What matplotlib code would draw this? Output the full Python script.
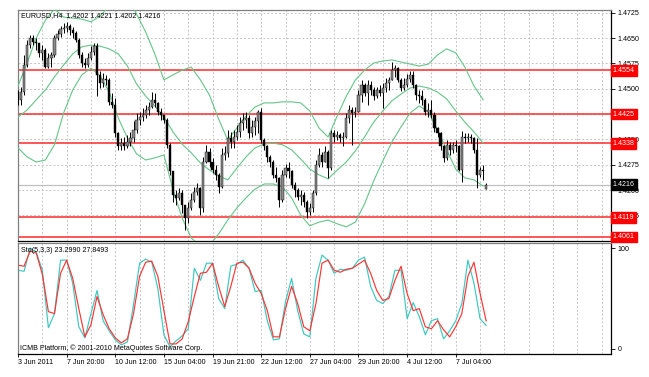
import numpy as np
import matplotlib.pyplot as plt
from matplotlib.transforms import blended_transform_factory

plt.rcParams['font.family'] = ['Liberation Sans', 'DejaVu Sans']
plt.rcParams['font.size'] = 5.1

# EURUSD H4 candles, one value per bar (open of a bar = close of the previous one)
first_open = 1.4491
last_open = 1.4202
closes = [1.4467, 1.4489, 1.4570, 1.4630, 1.4649, 1.4639, 1.4635, 1.4605, 1.4615, 1.4565,
          1.4590, 1.4600, 1.4649, 1.4661, 1.4677, 1.4681, 1.4687, 1.4674, 1.4664, 1.4644,
          1.4600, 1.4575, 1.4570, 1.4590, 1.4610, 1.4625, 1.4541, 1.4516, 1.4529, 1.4526,
          1.4462, 1.4452, 1.4368, 1.4329, 1.4338, 1.4329, 1.4343, 1.4353, 1.4378, 1.4408,
          1.4417, 1.4422, 1.4437, 1.4447, 1.4467, 1.4457, 1.4432, 1.4422, 1.4408, 1.4333,
          1.4255, 1.4185, 1.4176, 1.4190, 1.4156, 1.4116, 1.4146, 1.4171, 1.4195, 1.4205,
          1.4146, 1.4284, 1.4314, 1.4284, 1.4259, 1.4245, 1.4210, 1.4304, 1.4309, 1.4353,
          1.4343, 1.4358, 1.4373, 1.4398, 1.4408, 1.4412, 1.4368, 1.4388, 1.4403, 1.4432,
          1.4348, 1.4329, 1.4299, 1.4284, 1.4245, 1.4235, 1.4171, 1.4245, 1.4264, 1.4255,
          1.4215, 1.4200, 1.4180, 1.4185, 1.4166, 1.4136, 1.4146, 1.4190, 1.4274, 1.4304,
          1.4284, 1.4314, 1.4264, 1.4368, 1.4358, 1.4363, 1.4353, 1.4358, 1.4412, 1.4437,
          1.4427, 1.4432, 1.4481, 1.4511, 1.4486, 1.4511, 1.4496, 1.4477, 1.4496, 1.4486,
          1.4501, 1.4516, 1.4526, 1.4556, 1.4560, 1.4526, 1.4501, 1.4511, 1.4529, 1.4541,
          1.4511, 1.4481, 1.4477, 1.4467, 1.4432, 1.4437, 1.4422, 1.4383, 1.4368, 1.4329,
          1.4294, 1.4333, 1.4319, 1.4333, 1.4329, 1.4259, 1.4358, 1.4353, 1.4358, 1.4353,
          1.4319, 1.4245, 1.4259, 1.4255, 1.4216]
highs = [1.4496, 1.4506, 1.4600, 1.4644, 1.4659, 1.4659, 1.4649, 1.4635, 1.4630, 1.4620,
         1.4605, 1.4610, 1.4659, 1.4674, 1.4687, 1.4694, 1.4697, 1.4691, 1.4684, 1.4671,
         1.4649, 1.4610, 1.4590, 1.4605, 1.4625, 1.4635, 1.4635, 1.4551, 1.4546, 1.4541,
         1.4531, 1.4486, 1.4472, 1.4373, 1.4353, 1.4358, 1.4363, 1.4373, 1.4403, 1.4427,
         1.4432, 1.4442, 1.4452, 1.4462, 1.4491, 1.4486, 1.4462, 1.4442, 1.4422, 1.4412,
         1.4338, 1.4255, 1.4200, 1.4205, 1.4200, 1.4156, 1.4166, 1.4190, 1.4210, 1.4220,
         1.4210, 1.4299, 1.4333, 1.4324, 1.4294, 1.4274, 1.4250, 1.4324, 1.4329, 1.4378,
         1.4373, 1.4378, 1.4393, 1.4417, 1.4427, 1.4432, 1.4422, 1.4408, 1.4417, 1.4437,
         1.4442, 1.4353, 1.4333, 1.4304, 1.4289, 1.4269, 1.4240, 1.4259, 1.4276, 1.4284,
         1.4259, 1.4225, 1.4205, 1.4200, 1.4195, 1.4171, 1.4161, 1.4200, 1.4289, 1.4324,
         1.4314, 1.4329, 1.4319, 1.4378, 1.4378, 1.4375, 1.4368, 1.4373, 1.4427, 1.4452,
         1.4447, 1.4447, 1.4496, 1.4526, 1.4516, 1.4526, 1.4523, 1.4506, 1.4506, 1.4511,
         1.4516, 1.4531, 1.4536, 1.4578, 1.4570, 1.4565, 1.4531, 1.4531, 1.4543, 1.4551,
         1.4551, 1.4513, 1.4496, 1.4496, 1.4472, 1.4457, 1.4467, 1.4432, 1.4388, 1.4373,
         1.4333, 1.4348, 1.4343, 1.4343, 1.4348, 1.4333, 1.4375, 1.4368, 1.4368, 1.4365,
         1.4358, 1.4353, 1.4269, 1.4274, 1.4221]
lows = [1.4452, 1.4452, 1.4481, 1.4565, 1.4620, 1.4630, 1.4615, 1.4595, 1.4585, 1.4560,
        1.4560, 1.4565, 1.4595, 1.4644, 1.4654, 1.4664, 1.4669, 1.4659, 1.4649, 1.4637,
        1.4590, 1.4565, 1.4560, 1.4565, 1.4585, 1.4600, 1.4477, 1.4501, 1.4506, 1.4511,
        1.4452, 1.4442, 1.4358, 1.4319, 1.4319, 1.4319, 1.4324, 1.4329, 1.4343, 1.4368,
        1.4393, 1.4403, 1.4412, 1.4422, 1.4442, 1.4447, 1.4422, 1.4408, 1.4398, 1.4324,
        1.4245, 1.4166, 1.4156, 1.4171, 1.4131, 1.4082, 1.4101, 1.4141, 1.4166, 1.4185,
        1.4126, 1.4136, 1.4279, 1.4269, 1.4250, 1.4230, 1.4190, 1.4205, 1.4289, 1.4299,
        1.4324, 1.4324, 1.4348, 1.4358, 1.4378, 1.4383, 1.4353, 1.4358, 1.4363, 1.4368,
        1.4338, 1.4319, 1.4284, 1.4269, 1.4235, 1.4225, 1.4151, 1.4166, 1.4240, 1.4235,
        1.4205, 1.4180, 1.4171, 1.4156, 1.4151, 1.4116, 1.4126, 1.4136, 1.4185, 1.4269,
        1.4269, 1.4284, 1.4235, 1.4259, 1.4343, 1.4348, 1.4343, 1.4329, 1.4353, 1.4398,
        1.4333, 1.4417, 1.4432, 1.4462, 1.4477, 1.4452, 1.4481, 1.4467, 1.4472, 1.4477,
        1.4442, 1.4491, 1.4496, 1.4526, 1.4536, 1.4521, 1.4493, 1.4496, 1.4506, 1.4521,
        1.4503, 1.4467, 1.4457, 1.4452, 1.4422, 1.4417, 1.4412, 1.4373, 1.4358, 1.4319,
        1.4284, 1.4289, 1.4304, 1.4309, 1.4314, 1.4255, 1.4225, 1.4338, 1.4343, 1.4338,
        1.4309, 1.4205, 1.4240, 1.4230, 1.4202]

# Bollinger bands read every 3rd bar
band_step = 3
bb_upper = [1.4508, 1.4576, 1.4650, 1.4703, 1.4736, 1.4712, 1.4709, 1.4706, 1.4698, 1.4715,
            1.4745, 1.4792, 1.4780, 1.4721, 1.4668, 1.4603, 1.4526, 1.4541, 1.4555, 1.4564,
            1.4526, 1.4481, 1.4410, 1.4348, 1.4384, 1.4419, 1.4446, 1.4458, 1.4458, 1.4461,
            1.4461, 1.4458, 1.4434, 1.4384, 1.4357, 1.4419, 1.4478, 1.4526, 1.4555, 1.4576,
            1.4582, 1.4585, 1.4579, 1.4573, 1.4567, 1.4573, 1.4600, 1.4618, 1.4606, 1.4564,
            1.4508, 1.4467]
bb_mid = [1.4416, 1.4437, 1.4467, 1.4496, 1.4535, 1.4570, 1.4603, 1.4624, 1.4629, 1.4626,
          1.4618, 1.4603, 1.4567, 1.4514, 1.4478, 1.4449, 1.4416, 1.4372, 1.4336, 1.4310,
          1.4280, 1.4259, 1.4242, 1.4230, 1.4265, 1.4298, 1.4325, 1.4336, 1.4339, 1.4334,
          1.4319, 1.4292, 1.4262, 1.4245, 1.4233, 1.4259, 1.4283, 1.4316, 1.4357, 1.4401,
          1.4434, 1.4464, 1.4484, 1.4502, 1.4508, 1.4502, 1.4490, 1.4470, 1.4434, 1.4401,
          1.4372, 1.4339]
bb_lower = [1.4325, 1.4298, 1.4283, 1.4289, 1.4334, 1.4428, 1.4496, 1.4541, 1.4561, 1.4538,
            1.4490, 1.4413, 1.4354, 1.4307, 1.4289, 1.4295, 1.4304, 1.4200, 1.4117, 1.4058,
            1.4035, 1.4037, 1.4070, 1.4111, 1.4147, 1.4177, 1.4203, 1.4218, 1.4218, 1.4209,
            1.4177, 1.4126, 1.4094, 1.4105, 1.4111, 1.4100, 1.4091, 1.4105, 1.4159, 1.4227,
            1.4286, 1.4342, 1.4387, 1.4428, 1.4449, 1.4431, 1.4378, 1.4319, 1.4262, 1.4236,
            1.4230, 1.4212]

# Stochastic(5,3,3) read every 2nd bar
stoch_step = 2
stoch_main = [78, 77, 100, 96, 78, 21, 35, 88, 88, 65,
              22, 11, 35, 58, 28, 18, 9, 4, 7, 44,
              85, 89, 86, 60, 14, 2, 8, 13, 20, 80,
              68, 85, 85, 50, 40, 82, 84, 88, 80, 57,
              58, 28, 9, 10, 47, 70, 38, 15, 12, 70,
              93, 88, 75, 79, 78, 80, 88, 91, 62, 48,
              45, 52, 78, 78, 30, 46, 32, 14, 28, 30,
              10, 18, 28, 45, 88, 65, 30, 23.299]
stoch_signal = [83, 82, 97, 95, 74, 37, 35, 75, 88, 70,
                40, 12, 24, 52, 34, 20, 11, 6, 10, 35,
                72, 86, 87, 72, 38, 5, 5, 10, 27, 52,
                75, 76, 85, 62, 42, 62, 85, 86, 80, 65,
                55, 38, 12, 12, 40, 62, 45, 22, 18, 45,
                85, 88, 78, 76, 79, 80, 84, 88, 75, 58,
                48, 50, 68, 82, 55, 38, 40, 22, 20, 28,
                19, 12, 22, 35, 72, 86, 55, 27.8493]

levels = [1.4554, 1.4425, 1.4338, 1.4119, 1.4061]
price_ticks = [1.4725, 1.4650, 1.4575, 1.4500, 1.4425, 1.4350, 1.4275, 1.4200, 1.4125]
time_labels = ['3 Jun 2011', '7 Jun 20:00', '10 Jun 12:00', '15 Jun 04:00', '19 Jun 21:00',
               '22 Jun 12:00', '27 Jun 04:00', '29 Jun 20:00', '4 Jul 12:00', '7 Jul 04:00']
bars_per_label = 16
bars_per_grid = 8

o = np.array([first_open] + closes[:-1])
o[-1] = last_open
c = np.array(closes)
h = np.array(highs)
l = np.array(lows)
x = np.arange(len(c))
bull = c >= o

W, H = 649, 377
fig = plt.figure(figsize=(W / 100, H / 100), dpi=100)
ax = fig.add_axes([18 / W, 1 - 241 / H, 593 / W, 231 / H])
ax2 = fig.add_axes([18 / W, 1 - 354 / H, 593 / W, 111 / H])

xmax = 195.07
grid_kw = dict(color='#c4c4c4', lw=0.7, ls=(0, (2, 2)), zorder=0)

# main window
ax.set_xlim(0, xmax)
ax.set_ylim(1.40491, 1.47330)
for g in range(bars_per_grid, int(xmax), bars_per_grid):
    ax.axvline(g, **grid_kw)
    ax2.axvline(g, **grid_kw)
for p in price_ticks:
    ax.axhline(p, **grid_kw)

ax.axhline(c[-1], color='#c0c0c0', lw=0.9, zorder=1)
for lv in levels:
    ax.axhline(lv, color='#ff2a2a', lw=1.1, zorder=2)

bx = np.arange(0, len(c) - 1, band_step)
for band in (bb_upper, bb_mid, bb_lower):
    ax.plot(bx, band, color='#66c488', lw=0.8, zorder=3)

ax.vlines(x, l, h, color='black', lw=0.7, zorder=4)
body = np.maximum(np.abs(c - o), 0.00006)
ax.bar(x[bull], body[bull], bottom=o[bull], width=0.7, color='#8a8a8a',
       edgecolor='black', lw=0.3, zorder=5)
ax.bar(x[~bull], body[~bull], bottom=c[~bull], width=0.7, color='black',
       edgecolor='black', lw=0.3, zorder=5)

ax.text(0.005, 0.976, 'EURUSD,H4  %.4f %.4f %.4f %.4f' % (o[-1], h[-1], l[-1], c[-1]),
        transform=ax.transAxes, va='center', ha='left')

# tick labels that sit right under a level tag are hidden by it, as in the terminal
ax.yaxis.tick_right()
ax.set_yticks(price_ticks)
ax.set_yticklabels(['' if p in levels else '%.4f' % p for p in price_ticks])
ax.tick_params(axis='y', length=3, width=0.6, pad=1.5, labelsize=5.1)
ax.set_xticks([])

tr = blended_transform_factory(ax.transAxes, ax.transData)
box = dict(boxstyle='square,pad=0.25', fc='#ff0000', ec='#ff0000')
for lv in levels:
    ax.text(1.003, lv, '%.4f' % lv, transform=tr, color='white', va='center', ha='left',
            bbox=box, zorder=10, clip_on=False)
ax.text(1.003, c[-1], '%.4f' % c[-1], transform=tr, color='white', va='center', ha='left',
        bbox=dict(boxstyle='square,pad=0.25', fc='black', ec='black'), zorder=10, clip_on=False)

# stochastic window
sx = np.arange(0, len(c), stoch_step)
ax2.plot(sx, stoch_main, color='#3cc8c0', lw=0.85)
ax2.plot(sx, stoch_signal, color='#ff3434', lw=0.85)
ax2.set_xlim(0, xmax)
ax2.set_ylim(-5, 105)
ax2.yaxis.tick_right()
ax2.set_yticks([0, 100])
ax2.set_yticklabels(['0', '100'])
ax2.tick_params(axis='y', length=3, width=0.6, pad=1.5)
ticks = np.arange(len(time_labels)) * bars_per_label
ax2.set_xticks(ticks)
ax2.set_xticklabels(time_labels, ha='left')
ax2.tick_params(axis='x', length=2, width=0.6, pad=1.5)
ax2.text(0.005, 0.928, 'Sto(5,3,3) %.4f %.4f' % (stoch_main[-1], stoch_signal[-1]),
         transform=ax2.transAxes, va='center', ha='left')
ax2.text(0.004, 0.054, 'ICMB Platform, \u00a9 2001-2010 MetaQuotes Software Corp.',
         transform=ax2.transAxes, va='center', ha='left')

for a in (ax, ax2):
    for s in ('top', 'left'):
        a.spines[s].set_color('#808080')
    for s in ('right', 'bottom'):
        a.spines[s].set_color('black')
    for s in a.spines.values():
        s.set_linewidth(0.9)

fig.savefig('out.png', dpi=100, facecolor='white')
